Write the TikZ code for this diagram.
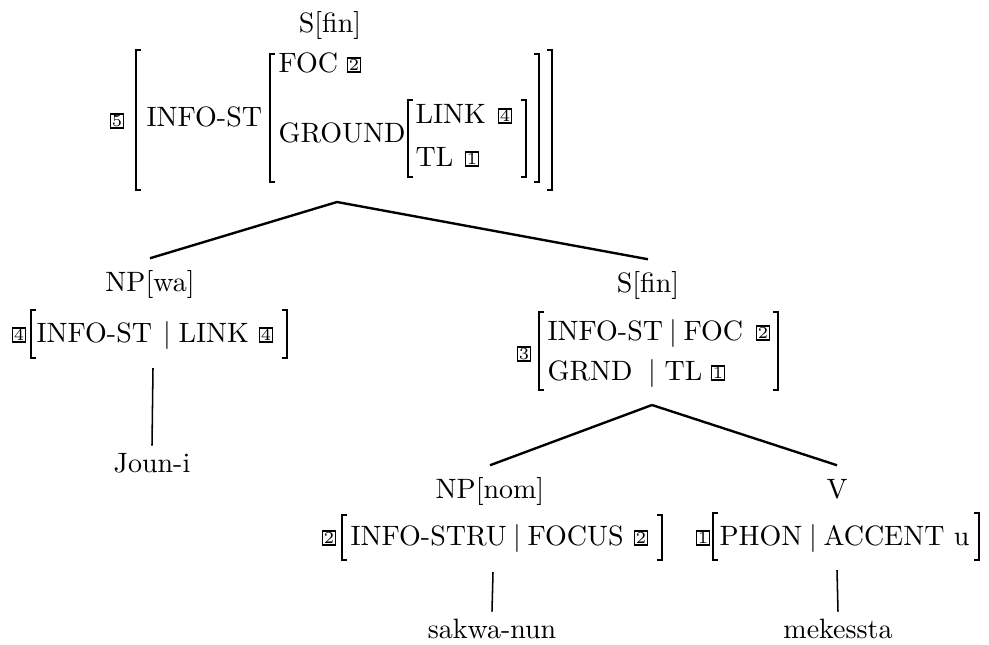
\documentclass[tikz,border=0pt]{standalone}
\usepackage{tikz}
\newcommand{\avmL}[3]{\draw[brk] (#1+5,#2) -- (#1,#2) -- (#1,#3) -- (#1+5,#3);}
\newcommand{\avmR}[3]{\draw[brk] (#1-5,#2) -- (#1,#2) -- (#1,#3) -- (#1-5,#3);}
\begin{document}
\begin{tikzpicture}[x=0.35714pt,y=-0.35714pt,
  txt/.style={anchor=base west,inner sep=0pt},
  cat/.style={anchor=base,inner sep=4pt,text height=7.5pt,text depth=2.5pt},
  word/.style={anchor=base,inner sep=2.3pt,text height=6.94pt},
  barx/.style={anchor=base,inner sep=0pt},
  tag/.style={draw,line width=0.5pt,inner sep=0pt,minimum width=4.7pt,minimum height=4.9pt,font=\fontsize{6}{6}\selectfont},
  brk/.style={line width=0.7pt},
  branch/.style={line width=0.85pt},
  stem/.style={line width=0.55pt}]
\useasboundingbox (0,0) rectangle (989,645);

% ---------- root ----------
\node[cat] (sroot) at (330,32) {S[fin]};
\node[tag] (t5) at (117,121) {5};
\avmL{136}{50}{190}
\avmR{552}{50}{190}
\node[txt] (infost) at (146,126) {INFO-ST};
\avmL{270}{54}{182}
\avmR{539}{54}{182}
\node[txt] (foc) at (278,72) {FOC};
\node[tag] (t2a) at (354,65) {2};
\node[txt] (ground) at (278,142) {GROUND};
\avmL{408}{100}{177}
\avmR{526}{100}{177}
\node[txt] (link) at (415,123) {LINK};
\node[tag] (t4r) at (505,116) {4};
\node[txt] (tl) at (415,166) {TL};
\node[tag] (t1r) at (472,159) {1};
\coordinate (apex1) at (337,202);

% ---------- NP[wa] ----------
\node[cat] (npwa) at (150,291) {NP[wa]};
\node[tag] (t4a) at (19,335) {4};
\avmL{31}{310}{358}
\avmR{287}{310}{358}
\node[txt] (infost2) at (36,342) {INFO-ST};
\node[barx] (bar1) at (167,342) {$|$};
\node[txt] (link2) at (178,342) {LINK};
\node[tag] (t4b) at (266,335) {4};
\coordinate (jfoot) at (153,368);
\node[word] (joun) at (152,472) {Joun-i};

% ---------- S[fin] ----------
\node[cat] (sfin) at (648,292) {S[fin]};
\node[tag] (t3) at (524,354) {3};
\avmL{539}{312}{390}
\avmR{778}{312}{390}
\node[txt] (infost3) at (547,340) {INFO-ST};
\node[barx] (bar2) at (673,340) {$|$};
\node[txt] (foc2) at (683,340) {FOC};
\node[tag] (t2b) at (763,333) {2};
\node[txt] (grnd) at (547,380) {GRND};
\node[barx] (bar3) at (652,380) {$|$};
\node[txt] (tl2) at (664,380) {TL};
\node[tag] (t1a) at (718,373) {1};
\coordinate (apex2) at (652,405);

% ---------- NP[nom] ----------
\node[cat] (npnom) at (490,498) {NP[nom]};
\node[tag] (t2c) at (329,538) {2};
\avmL{342}{515}{560}
\avmR{662}{515}{560}
\node[txt] (infostru) at (350,545) {INFO-STRU};
\node[barx] (bar4) at (517,545) {$|$};
\node[txt] (focus) at (527,545) {FOCUS};
\node[tag] (t2d) at (641,538) {2};
\coordinate (nfoot) at (493,572);
\node[word] (sakwa) at (492,638) {sakwa-nun};

% ---------- V ----------
\node[cat] (v) at (837,498) {V};
\node[tag] (t1b) at (703,538) {1};
\avmL{713}{513}{560}
\avmR{979}{513}{560}
\node[txt] (phon) at (719,545) {PHON};
\node[barx] (bar5) at (813,545) {$|$};
\node[txt] (accent) at (823,545) {ACCENT u};
\coordinate (vfoot) at (837,570);
\node[word] (mek) at (838,638) {mekessta};

% ---------- connectors ----------
\draw[branch] (apex1) -- (npwa.north);
\draw[branch] (apex1) -- (sfin.north);
\draw[branch] (apex2) -- (npnom.north);
\draw[branch] (apex2) -- (v.north);
\draw[stem] (jfoot) -- (joun.north);
\draw[stem] (nfoot) -- (sakwa.north);
\draw[stem] (vfoot) -- (mek.north);
\end{tikzpicture}
\end{document}
